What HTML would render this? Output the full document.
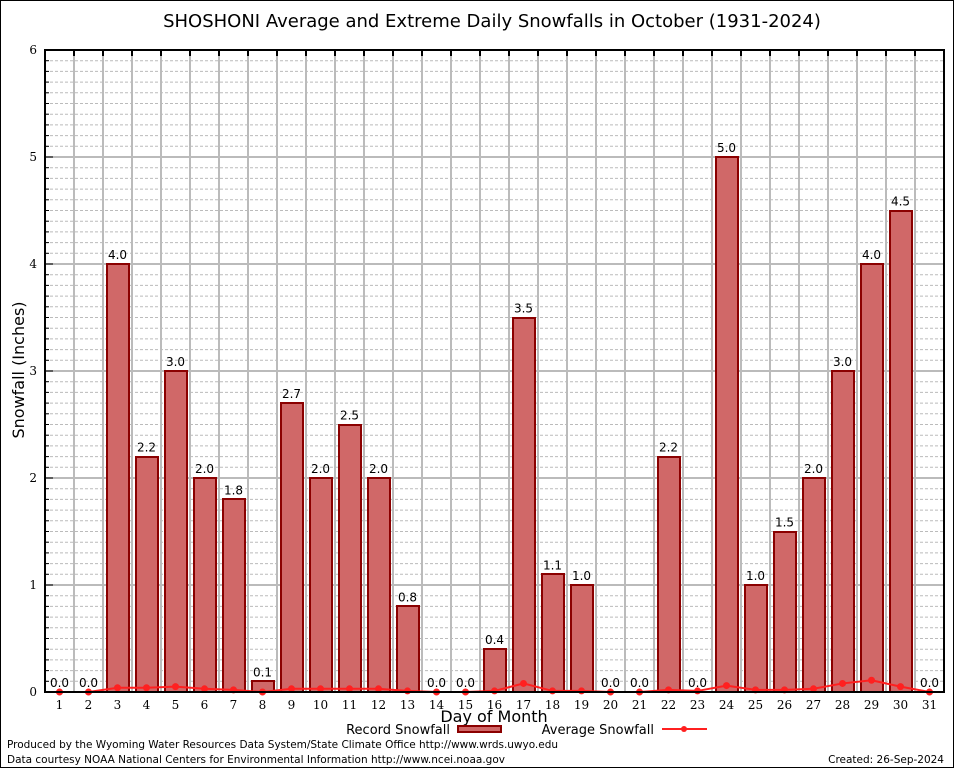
<!DOCTYPE html>
<html><head><meta charset="utf-8"><style>
body{margin:0;background:#fff}
svg{display:block;font-family:"DejaVu Sans","Liberation Sans",sans-serif}
</style></head><body>
<svg id="chart" width="954" height="768">
<rect x="0.5" y="0.5" width="953" height="767" fill="#fff" stroke="#000"/>
<text x="492" y="27" text-anchor="middle" font-size="18">SHOSHONI Average and Extreme Daily Snowfalls in October (1931-2024)</text>
<g id="grid"></g><g id="bars"></g><g id="avg"></g><g id="axes"></g>
<text x="24" y="370" text-anchor="middle" font-size="16" transform="rotate(-90 24 370)">Snowfall (Inches)</text>
<text x="494" y="722" text-anchor="middle" font-size="16">Day of Month</text>
<g>
<text x="450" y="734" text-anchor="end" font-size="13">Record Snowfall</text>
<rect x="458" y="726" width="43" height="6" fill="#d06868" stroke="#8b0000" stroke-width="2"/>
<text x="654" y="734" text-anchor="end" font-size="13">Average Snowfall</text>
<line x1="662" y1="729" x2="707" y2="729" stroke="#ff2020" stroke-width="2"/>
<circle cx="684" cy="729" r="3" fill="#ff2020"/>
</g>
<text x="7" y="748" font-size="10.5" textLength="551">Produced by the Wyoming Water Resources Data System/State Climate Office http://www.wrds.uwyo.edu</text>
<text x="7" y="763" font-size="10.5" textLength="498">Data courtesy NOAA National Centers for Environmental Information http://www.ncei.noaa.gov</text>
<text x="944" y="763" text-anchor="end" font-size="10.5">Created: 26-Sep-2024</text>
</svg>
<script>
const days=[1,2,3,4,5,6,7,8,9,10,11,12,13,14,15,16,17,18,19,20,21,22,23,24,25,26,27,28,29,30,31];
const recordSnow=[0,0,4.0,2.2,3.0,2.0,1.8,0.1,2.7,2.0,2.5,2.0,0.8,0,0,0.4,3.5,1.1,1.0,0,0,2.2,0,5.0,1.0,1.5,2.0,3.0,4.0,4.5,0];
const avgSnow=[0,0,0.04,0.04,0.05,0.03,0.02,0,0.03,0.03,0.03,0.03,0.01,0,0,0.01,0.08,0.01,0.01,0,0,0.02,0.01,0.06,0.02,0.02,0.03,0.08,0.11,0.05,0];
const yTicks=[0,1,2,3,4,5,6];
const L=45,R=944,T=50,B=692,yMax=6;
const xs=d=>L+(d-0.5)*(R-L)/days.length;
const ys=v=>B-v*(B-T)/yMax;
const NS='http://www.w3.org/2000/svg';
function mk(p,tag,a){const e=document.createElementNS(NS,tag);for(const k in a)e.setAttribute(k,a[k]);document.getElementById(p).appendChild(e);return e;}
for(let i=1;i<yMax*10;i++){if(i%10===0)continue;const y=ys(i/10);
const g=mk('grid','line',{x1:L,x2:R,y1:y,y2:y,stroke:'#bbb','stroke-dasharray':'3,2','stroke-width':1});


const t=mk('axes','line',{x1:L,x2:L+4,y1:y,y2:y,stroke:'#000'});

}
yTicks.forEach(v=>{const y=ys(v);
const g=mk('grid','line',{x1:L,x2:R,y1:y,y2:y,stroke:'#bbb','stroke-width':2});


const t=mk('axes','text',{x:L-8,y:y+4,'text-anchor':'end','font-size':12,'font-family':'DejaVu Serif,serif'});t.textContent=v;


const tk=mk('axes','line',{x1:L,x2:L+8,y1:y,y2:y,stroke:'#000'});

});
for(let k=1;k<days.length;k++){const x=L+k*(R-L)/days.length;
const g=mk('grid','line',{x1:x,x2:x,y1:T,y2:B,stroke:'#bbb','stroke-width':2});


const t=mk('axes','line',{x1:x,x2:x,y1:T,y2:T+6,stroke:'#000','stroke-width':2});

}
const bw=22;
days.forEach((d,i)=>{const v=recordSnow[i],x=xs(d);
if(v>0){const bx=Math.round(x-bw/2),by=Math.round(ys(v));
const b=mk('bars','rect',{x:bx,y:by,width:bw,height:B-by,fill:'#d06868',stroke:'#8b0000','stroke-width':2});

}
const t=mk('bars','text',{x:x,y:ys(v)-5,'text-anchor':'middle','font-size':12});t.textContent=v.toFixed(1);


const xl=mk('axes','text',{x:x,y:B+17,'text-anchor':'middle','font-size':12,'font-family':'DejaVu Serif,serif'});xl.textContent=d;

});
const pl=mk('avg','polyline',{points:days.map((d,i)=>xs(d)+','+ys(avgSnow[i])).join(' '),fill:'none',stroke:'#ff2020','stroke-width':2});


days.forEach((d,i)=>{const c=mk('avg','circle',{cx:xs(d),cy:ys(avgSnow[i]),r:3.5,fill:'#ff2020'});

});
const fr=mk('axes','rect',{x:L,y:T,width:R-L,height:B-T,fill:'none',stroke:'#000','stroke-width':2});


</script>
</body></html>
